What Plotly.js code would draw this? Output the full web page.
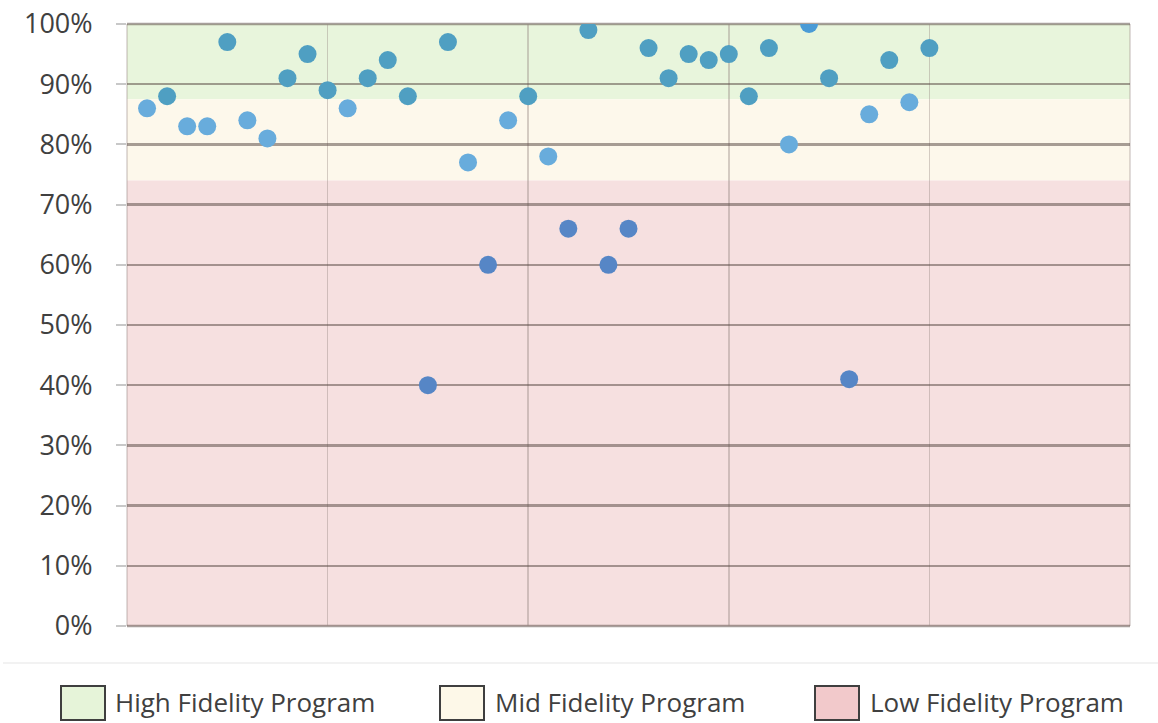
<!DOCTYPE html>
<html>
<head>
<meta charset="utf-8">
<script src="https://cdn.plot.ly/plotly-3.0.1.min.js"></script>
<style>
  html, body { margin: 0; padding: 0; background: #ffffff; }
  #chart { width: 1158px; height: 723px; }
</style>
</head>
<body>
<div id="chart"></div>
<script>
// ---- data ----
const programIndex = [1,2,3,4,5,6,7,8,9,10,11,12,13,14,15,16,17,18,19,20,
                      21,22,23,24,25,26,27,28,29,30,31,32,33,34,35,36,37,38,39,40];
const fidelityScores = [86,88,83,83,97,84,81,91,95,89,86,91,94,88,40,97,77,60,84,88,
                        78,66,99,60,66,96,91,95,94,95,88,96,80,100,91,41,85,94,87,96];
const bandLabels = ['High Fidelity Program', 'Mid Fidelity Program', 'Low Fidelity Program'];
const bandLower = [87.5, 74, 0];
const bandUpper = [100, 87.5, 74];

// ---- styles ----
const bandFill = ['#e8f5dc', '#fdf8eb', '#f6e0e0'];
const legendFill = ['#e6f4d9', '#fdf8e8', '#f2c9cb'];
const dotColorByBand = ['#4f9fc2', '#68acdc', '#5686c6'];
const FONT = 'Open Sans, Lato, sans-serif';
const HGRID = 'rgba(95,80,75,0.55)';
const VGRID = 'rgba(150,135,130,0.4)';

// plot area geometry (px)
const W = 1158, H = 723;
const M = {l: 127, r: 28, t: 24, b: 97};
const PW = W - M.l - M.r, PH = H - M.t - M.b;
const px2x = p => (p - M.l) / PW;
const px2y = p => (H - M.b - p) / PH;

function bandIndex(v) {
  for (let i = 0; i < bandLower.length; i++) {
    if (v >= bandLower[i]) return i;
  }
  return bandLower.length - 1;
}
const dotColors = fidelityScores.map(v => v >= 100 ? '#4a9bd6' : dotColorByBand[bandIndex(v)]);

const trace = {
  type: 'scatter',
  mode: 'markers',
  x: programIndex,
  y: fidelityScores,
  marker: {size: 18, color: dotColors, line: {width: 0}},
  showlegend: false,
  hoverinfo: 'y'
};

const shapes = [];
// background bands
bandLabels.forEach((lab, i) => {
  shapes.push({
    type: 'rect', layer: 'below', xref: 'paper', yref: 'y',
    x0: 0, x1: 1, y0: bandLower[i], y1: bandUpper[i],
    fillcolor: bandFill[i], line: {width: 0}
  });
});
// edge lines of the plot area (gridlines at range ends)
shapes.push({type: 'line', layer: 'below', xref: 'paper', yref: 'paper',
  x0: 0, x1: 0, y0: 0, y1: 1, line: {color: VGRID, width: 1.5}});
shapes.push({type: 'line', layer: 'below', xref: 'paper', yref: 'paper',
  x0: 1, x1: 1, y0: 0, y1: 1, line: {color: VGRID, width: 1.5}});
shapes.push({type: 'line', layer: 'below', xref: 'paper', yref: 'paper',
  x0: 0, x1: 1, y0: 0, y1: 0, line: {color: HGRID, width: 2.5}});
shapes.push({type: 'line', layer: 'below', xref: 'paper', yref: 'paper',
  x0: 0, x1: 1, y0: 1, y1: 1, line: {color: HGRID, width: 2.5}});
// faint separator line above legend
shapes.push({
  type: 'line', xref: 'paper', yref: 'paper',
  x0: px2x(3), x1: px2x(1158), y0: px2y(663), y1: px2y(663),
  line: {color: '#eeeeee', width: 1.5}
});

// custom legend
const legendBoxLeft = [61, 440, 815];
const legendTextLeft = [114, 494, 869];
const annotations = [];
bandLabels.forEach((lab, i) => {
  shapes.push({
    type: 'rect', xref: 'paper', yref: 'paper',
    x0: px2x(legendBoxLeft[i]), x1: px2x(legendBoxLeft[i] + 44),
    y0: px2y(720), y1: px2y(686),
    fillcolor: legendFill[i], line: {color: '#3f3f3f', width: 2}
  });
  annotations.push({
    xref: 'paper', yref: 'paper',
    x: px2x(legendTextLeft[i]), y: px2y(702),
    xanchor: 'left', yanchor: 'middle',
    text: lab, showarrow: false, borderpad: 0,
    font: {family: FONT, size: 26, color: '#404040'}
  });
});

const layout = {
  width: W, height: H,
  margin: M,
  paper_bgcolor: '#ffffff',
  plot_bgcolor: 'rgba(0,0,0,0)',
  showlegend: false,
  font: {family: FONT, size: 27, color: '#404040'},
  xaxis: {
    range: [0, 50], dtick: 10, tick0: 0,
    showgrid: true, gridcolor: VGRID, gridwidth: 1.5,
    showticklabels: false, zeroline: false, showline: false, ticks: ''
  },
  yaxis: {
    range: [0, 100], dtick: 10, tick0: 0,
    ticksuffix: '%',
    showgrid: true, gridcolor: HGRID, gridwidth: 2.5,
    zeroline: false, showline: false,
    ticks: 'outside', ticklen: 10, tickcolor: '#c8c8c8', tickwidth: 2,
    ticklabelstandoff: 18,
    tickfont: {family: FONT, size: 27, color: '#404040'}
  },
  shapes: shapes,
  annotations: annotations
};

Plotly.newPlot('chart', [trace], layout, {displayModeBar: false, staticPlot: true});
</script>
</body>
</html>
